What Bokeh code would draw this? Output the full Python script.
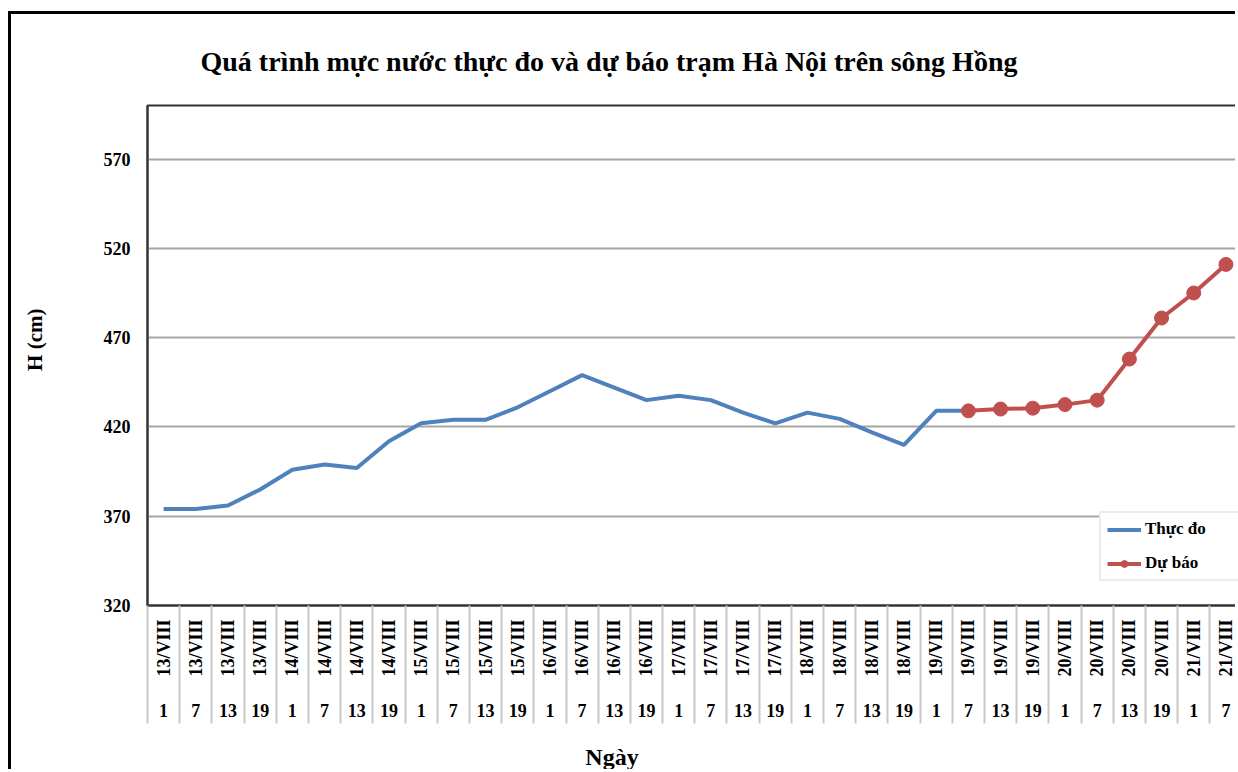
import math
from bokeh.plotting import figure
from bokeh.models import (Range1d, LinearAxis, FixedTicker, Legend, LegendItem)
from bokeh.embed import file_html
from bokeh.resources import INLINE

# ---- data ----
days = (["13/VIII"] * 4 + ["14/VIII"] * 4 + ["15/VIII"] * 4 + ["16/VIII"] * 4 +
        ["17/VIII"] * 4 + ["18/VIII"] * 4 + ["19/VIII"] * 4 + ["20/VIII"] * 4 +
        ["21/VIII"] * 2)
hours = [1, 7, 13, 19] * 8 + [1, 7]
observed = [374, 374, 376, 385, 396, 399, 397, 412, 422, 424, 424, 431, 440,
            449, 442, 435, 437.5, 435, 428, 422, 428, 424.5, 417, 410, 429, 429]
forecast = [429, 430, 430.5, 432.5, 435, 458, 481, 495, 511]
y_ticks = [320, 370, 420, 470, 520, 570]

obs_x = list(range(len(observed)))
fc_x = list(range(len(observed) - 1, len(observed) - 1 + len(forecast)))
n = len(days)

FONT = "Liberation Serif"
NB = "\u00a0"

p = figure(width=1227, height=758, output_backend="svg", toolbar_location=None,
           x_range=Range1d(-0.5, 33.39), y_range=Range1d(320, 600),
           x_axis_location=None,
           min_border_left=136, min_border_top=91, min_border_bottom=167,
           min_border_right=0,
           styles={"border-left": "3px solid #000", "border-top": "3px solid #000",
                   "margin-top": "11px", "margin-left": "8px"})
p.xgrid.visible = False
p.outline_line_color = "#333333"
p.outline_line_width = 2
p.background_fill_color = "white"
p.border_fill_color = "white"

# title
p.title.text = "Quá trình mực nước thực đo và dự báo trạm Hà Nội trên sông Hồng"
p.title.align = "left"
p.title.offset = 53
p.title.standoff = 57
p.title.text_font = FONT
p.title.text_font_size = "28px"
p.title.text_font_style = "bold"
p.title.text_color = "black"

# y axis
yax = p.yaxis[0]
yax.ticker = FixedTicker(ticks=y_ticks)
yax.major_tick_out = 0
yax.major_tick_in = 0
yax.minor_tick_line_color = None
yax.axis_line_color = "#333333"
yax.axis_line_width = 2
yax.major_label_standoff = 17
yax.major_label_text_font = FONT
yax.major_label_text_font_size = "18px"
yax.major_label_text_font_style = "bold"
yax.major_label_text_color = "black"
yax.axis_label = NB * 6 + "H (cm)"
yax.axis_label_standoff = 54
yax.axis_label_text_font = FONT
yax.axis_label_text_font_size = "21px"
yax.axis_label_text_font_style = "bold"
yax.axis_label_text_color = "black"
p.ygrid.ticker = FixedTicker(ticks=y_ticks)
p.ygrid.grid_line_color = "#a6a6a6"
p.ygrid.grid_line_width = 2

# x axis: day labels with separators
ax1 = LinearAxis(
    ticker=FixedTicker(ticks=list(range(n)), minor_ticks=[i - 0.5 for i in range(n + 1)]),
    major_label_overrides={i: days[i] for i in range(n)},
    major_label_orientation=math.pi / 2,
    major_tick_out=0, major_tick_in=0,
    minor_tick_out=118, minor_tick_in=0,
    minor_tick_line_color="#c8c8c8", minor_tick_line_width=2,
    axis_line_color="#333333", axis_line_width=2,
    major_label_standoff=-104,
    major_label_text_font=FONT, major_label_text_font_size="18px",
    major_label_text_font_style="bold", major_label_text_color="black")
ax2 = LinearAxis(
    ticker=FixedTicker(ticks=list(range(n))),
    major_label_overrides={i: str(hours[i]) for i in range(n)},
    major_tick_line_color=None, minor_tick_line_color=None, axis_line_color=None,
    major_label_standoff=18,
    major_label_text_font=FONT, major_label_text_font_size="18px",
    major_label_text_font_style="bold", major_label_text_color="black",
    axis_label="Ngày" + NB * 27, axis_label_standoff=24,
    axis_label_text_font=FONT, axis_label_text_font_size="24px",
    axis_label_text_font_style="bold", axis_label_text_color="black")
p.add_layout(ax1, "below")
p.add_layout(ax2, "below")

# series
BLUE = "#4f81bd"
RED = "#c0504d"
r_obs = p.line(obs_x, observed, line_color=BLUE, line_width=4)
r_fc = p.line(fc_x, forecast, line_color=RED, line_width=4)
r_fcm = p.scatter(fc_x, forecast, size=14, fill_color=RED, line_color=RED)

legend = Legend(items=[LegendItem(label="Thực đo", renderers=[r_obs]),
                       LegendItem(label="Dự báo", renderers=[r_fc, r_fcm])],
                location=(952, 24), padding=6, spacing=14, margin=0,
                glyph_width=34, glyph_height=17, label_height=17, label_width=88,
                label_standoff=4,
                label_text_font=FONT, label_text_font_size="17px",
                label_text_font_style="bold", label_text_color="black",
                border_line_color="#d9d9d9", border_line_width=2,
                background_fill_color="white", background_fill_alpha=1)
p.add_layout(legend, "center")

open("out.html", "w").write(file_html(p, INLINE))
